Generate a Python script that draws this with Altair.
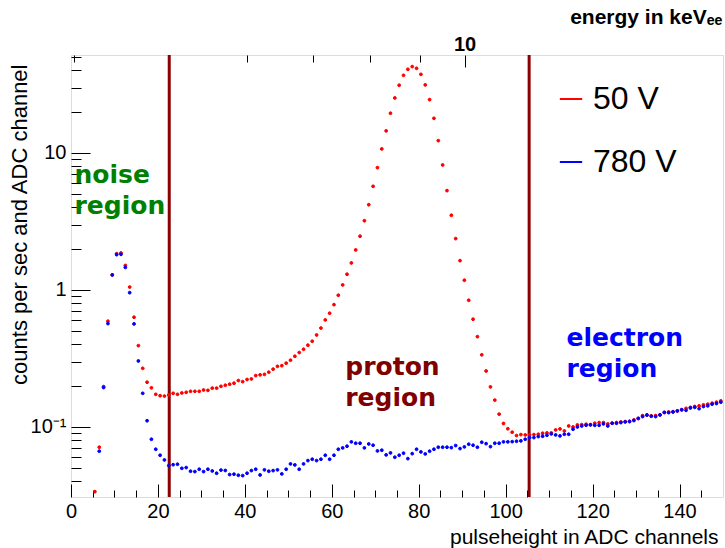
import altair as alt
import pandas as pd

# ---------------- data ----------------
red_channels = list(range(5, 150))
red_counts = [
    0.0337, 0.0711, 0.197, 0.591, 1.287, 1.84, 1.86, 1.51, 1.05, 0.632,
    0.392, 0.268, 0.212, 0.193, 0.173, 0.169, 0.168, 0.171, 0.176, 0.173,
    0.177, 0.179, 0.182, 0.182, 0.182, 0.186, 0.185, 0.192, 0.192, 0.198,
    0.2015, 0.205, 0.2085, 0.218, 0.214, 0.222, 0.224, 0.237, 0.240, 0.242,
    0.251, 0.264, 0.277, 0.280, 0.292, 0.307, 0.328, 0.349, 0.369, 0.395,
    0.422, 0.469, 0.527, 0.604, 0.676, 0.781, 0.915, 1.088, 1.302, 1.574,
    1.958, 2.466, 3.20, 4.19, 5.71, 7.81, 10.7, 14.5, 19.5, 25.2,
    31.2, 36.9, 40.8, 42.7, 41.5, 37.5, 31.4, 24.5, 17.9, 12.3,
    8.17, 5.31, 3.51, 2.37, 1.636, 1.177, 0.841, 0.611, 0.456, 0.336,
    0.256, 0.196, 0.157, 0.124, 0.106, 0.097, 0.0915, 0.0865, 0.0879, 0.0874,
    0.0874, 0.0879, 0.0884, 0.0899, 0.0904, 0.0904, 0.0951, 0.0967, 0.0935, 0.1016,
    0.0999, 0.1034, 0.1040, 0.1046, 0.1040, 0.1064, 0.1076, 0.1076, 0.1052, 0.1064,
    0.1076, 0.1088, 0.1094, 0.1100, 0.1125, 0.1150, 0.1210, 0.1217, 0.1204, 0.1210,
    0.1224, 0.1272, 0.1286, 0.1293, 0.1308, 0.1330, 0.1367, 0.1390, 0.1410, 0.1425,
    0.1450, 0.1466, 0.1490, 0.1516, 0.1550,
]
blue_channels = list(range(6, 150))
blue_counts = [
    0.0665, 0.194, 0.568, 1.287, 1.81, 1.82, 1.46, 0.955, 0.565,
    0.303, 0.176, 0.111, 0.0813, 0.0687, 0.0621, 0.0574, 0.0522, 0.0530, 0.0534,
    0.0499, 0.0505, 0.0475, 0.0472, 0.0491, 0.0472, 0.0491, 0.0477, 0.0459, 0.0484,
    0.0481, 0.0449, 0.0452, 0.0444, 0.0441, 0.0459, 0.0480, 0.0491, 0.0446, 0.0486,
    0.0475, 0.0480, 0.0486, 0.0454, 0.0491, 0.0537, 0.0528, 0.0491, 0.0537, 0.0568,
    0.0581, 0.0568, 0.0581, 0.0621, 0.0581, 0.0621, 0.0687, 0.0703, 0.0723, 0.0778,
    0.0760, 0.0760, 0.0703, 0.0751, 0.0735, 0.0668, 0.0676, 0.0625, 0.0646, 0.0601,
    0.0621, 0.0643, 0.0587, 0.0638, 0.0687, 0.0657, 0.0635, 0.0665, 0.0687, 0.0711,
    0.0711, 0.0711, 0.0706, 0.0731, 0.0695, 0.0715, 0.0748, 0.0735, 0.0711, 0.0773,
    0.0755, 0.0718, 0.0760, 0.0760, 0.0778, 0.0778, 0.0781, 0.0786, 0.0791, 0.0813,
    0.0836, 0.0836, 0.0850, 0.0855, 0.0869, 0.0889, 0.0874, 0.0860, 0.0884, 0.0884,
    0.0962, 0.0999, 0.1016, 0.1028, 0.1034, 0.1028, 0.1028, 0.1052, 0.1016, 0.1064,
    0.1064, 0.1076, 0.1088, 0.1094, 0.1113, 0.1156, 0.1190, 0.1224, 0.1197, 0.1190,
    0.1224, 0.1279, 0.1272, 0.1286, 0.1308, 0.1337, 0.1322, 0.1375, 0.1390, 0.1360,
    0.1410, 0.1425, 0.1466, 0.1482, 0.1516,
]
series_names = ["50 V", "780 V"]
series_colors = ["#ff0000", "#0000ff"]

region_bounds = [22.6, 105.4]

x_major_ticks = [0, 20, 40, 60, 80, 100, 120, 140]
x_minor_ticks = [5, 10, 15, 25, 30, 35, 45, 50, 55, 65, 70, 75, 85, 90, 95,
                 105, 110, 115, 125, 130, 135, 145]
y_major_ticks = [0.1, 1, 10]
y_minor_ticks = [0.04, 0.05, 0.06, 0.07, 0.08, 0.09,
                 0.2, 0.3, 0.4, 0.5, 0.6, 0.7, 0.8, 0.9,
                 2, 3, 4, 5, 6, 7, 8, 9, 20, 30, 40, 50]
energy_minor_ticks = [4, 5, 6, 7, 8, 9]
energy_major_ticks = [10]

annot_texts = ["noise\nregion", "proton\nregion", "electron\nregion"]
annot_x = [0.8, 63.1, 114.0]
annot_y = [6.04, 0.240, 0.392]
annot_colors = ["#008000", "#800000", "#0000ff"]

# ---------------- frame ----------------
W, H = 652, 442
x_domain = [0, 150]
y_domain = [0.0308, 51.9]
e_domain = [3.97, 18.34]

df_pts = pd.concat([
    pd.DataFrame({"x": [c + 0.5 for c in red_channels], "counts": red_counts, "series": series_names[0]}),
    pd.DataFrame({"x": [c + 0.5 for c in blue_channels], "counts": blue_counts, "series": series_names[1]}),
])

def xs():
    return alt.Scale(domain=x_domain, nice=False, zero=False)

def ys():
    return alt.Scale(type="log", domain=y_domain, nice=False)

def es():
    return alt.Scale(type="log", domain=e_domain, nice=False)

LF = "Liberation Sans"

color_scale = alt.Scale(domain=series_names, range=series_colors)

points = alt.Chart(df_pts).mark_point(filled=False, size=8, strokeWidth=1, opacity=1).encode(
    x=alt.X("x:Q", scale=xs(), axis=alt.Axis(
        orient="bottom", values=x_major_ticks, ticks=False, domain=False, grid=False,
        labelFont=LF, labelFontSize=20, labelColor="black", labelPadding=4, labelFlush=False,
        title="pulseheight in ADC channels", titleFont=LF, titleFontSize=21,
        titleFontWeight="normal", titleColor="black",
        titleX=647, titleY=40, titleAlign="right", titleBaseline="middle")),
    y=alt.Y("counts:Q", scale=ys(), axis=alt.Axis(
        orient="left", values=y_major_ticks, ticks=False, domain=False, grid=False,
        labelExpr="datum.value >= 5 ? '10' : (datum.value >= 0.5 ? '1' : '10⁻¹')",
        labelFont=LF, labelFontSize=20, labelColor="black", labelPadding=5, labelFlush=False,
        title="counts per sec and ADC channel", titleFont=LF, titleFontSize=22,
        titleFontWeight="normal", titleColor="black", titleAngle=270,
        titleX=-52, titleY=9, titleAlign="right", titleBaseline="middle")),
    color=alt.Color("series:N", scale=color_scale, legend=alt.Legend(
        orient="none", legendX=484, legendY=28, title=None,
        labelFont=LF, labelFontSize=32, labelColor="black",
        symbolType="stroke", symbolStrokeWidth=2, symbolSize=500,
        rowPadding=31, labelOffset=6)),
    fill=alt.Fill("series:N", scale=color_scale, legend=None),
)

rules = alt.Chart(pd.DataFrame({"b": region_bounds})).mark_rule(
    color="#8b0000", strokeWidth=3).encode(
    x=alt.X("b:Q", scale=xs(), axis=None))

texts = []
for t, xv, yv, c in zip(annot_texts, annot_x, annot_y, annot_colors):
    texts.append(
        alt.Chart(pd.DataFrame({"t": [t], "x": [xv], "y": [yv]})).mark_text(
            align="left", baseline="alphabetic", font="DejaVu Sans", fontWeight="bold",
            fontSize=25, lineBreak="\n", lineHeight=31, color=c).encode(
            x=alt.X("x:Q", scale=xs(), axis=None),
            y=alt.Y("y:Q", scale=ys(), axis=None),
            text="t:N"))

def xtick_layer(vals, size):
    return alt.Chart(pd.DataFrame({"v": vals})).mark_point(opacity=0).encode(
        x=alt.X("v:Q", scale=xs(), axis=alt.Axis(
            orient="top", offset=-H, values=vals, tickSize=size, labels=False,
            domain=False, grid=False, title=None, tickColor="black", tickWidth=1)))

def ytick_layer(vals, size):
    return alt.Chart(pd.DataFrame({"v": vals})).mark_point(opacity=0).encode(
        y=alt.Y("v:Q", scale=ys(), axis=alt.Axis(
            orient="right", offset=-W, values=vals, tickSize=size, labels=False,
            domain=False, grid=False, title=None, tickColor="black", tickWidth=1)))

def etick_layer(vals, size):
    return alt.Chart(pd.DataFrame({"e": vals})).mark_point(opacity=0).encode(
        x=alt.X("e:Q", scale=es(), axis=alt.Axis(
            orient="bottom", offset=-H, values=vals, tickSize=size, labels=False,
            domain=False, grid=False, title=None, tickColor="black", tickWidth=1)))

energy_labels = alt.Chart(pd.DataFrame({"e": energy_major_ticks})).mark_point(opacity=0).encode(
    x=alt.X("e:Q", scale=es(), axis=alt.Axis(
        orient="top", values=energy_major_ticks, ticks=False, domain=False, grid=False,
        labelFont=LF, labelFontSize=20, labelFontWeight="bold", labelColor="black",
        labelPadding=1, labelExpr="'10'", labelFlush=False,
        title="energy in keVₑₑ", titleFont=LF, titleFontSize=21, titleFontWeight="bold",
        titleColor="black", titleX=651, titleY=-38, titleAlign="right",
        titleBaseline="middle")))

chart = alt.layer(
    xtick_layer(x_major_ticks, 13),
    xtick_layer(x_minor_ticks, 7),
    ytick_layer(y_major_ticks, 19),
    ytick_layer(y_minor_ticks, 10),
    etick_layer(energy_minor_ticks, 7),
    etick_layer(energy_major_ticks, 12),
    energy_labels,
    rules,
    *texts,
    points,
).resolve_scale(
    x="independent", color="independent", fill="independent"
).resolve_axis(
    x="independent", y="independent"
).properties(
    width=W, height=H,
    autosize=alt.AutoSizeParams(type="none"),
    padding={"left": 71, "top": 55, "right": 2, "bottom": 51},
).configure_view(
    stroke="black", strokeWidth=1
).configure(background="white")

chart.save("out.html", embed_options={"renderer": "svg", "actions": False})
